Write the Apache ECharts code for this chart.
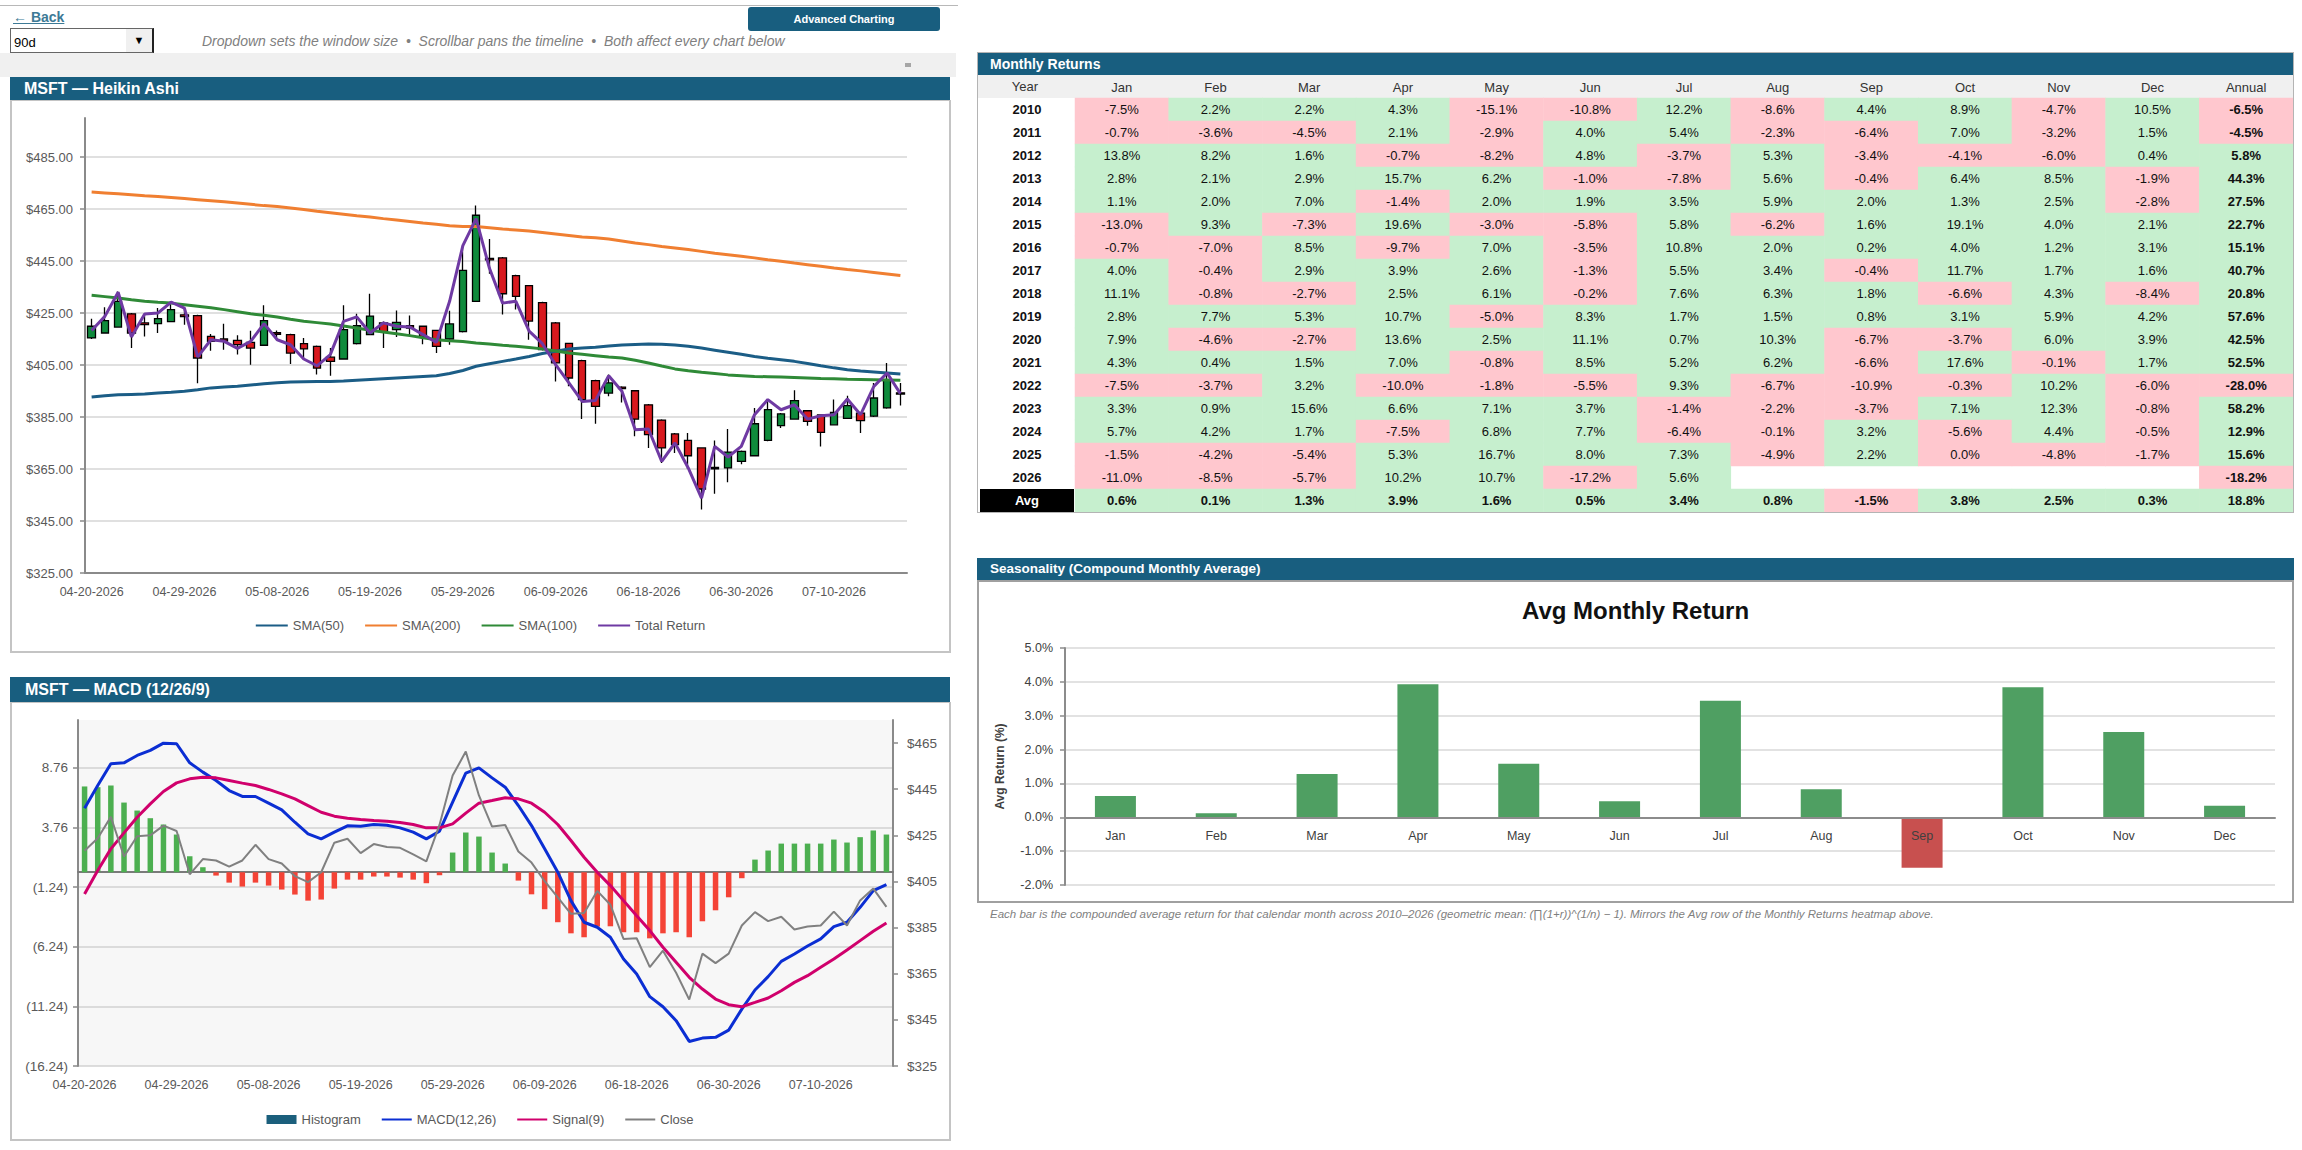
<!DOCTYPE html>
<html>
<head>
<meta charset="utf-8">
<title>MSFT dashboard</title>
<script src="https://cdn.jsdelivr.net/npm/echarts@6.0.0/dist/echarts.min.js"></script>
<style>
  html, body { margin: 0; padding: 0; background: #fff; }
  body { position: relative; width: 2302px; height: 1150px; overflow: hidden;
         font-family: "Liberation Sans", Arial, sans-serif; }
  .abs { position: absolute; box-sizing: border-box; }
  .hdr { background: #185e7f; color: #fff; font-weight: bold; white-space: nowrap; }
  .chart { position: absolute; }
</style>
</head>
<body>

<div class="abs" style="left:0;top:5px;width:958px;height:1px;background:#b8b8b8"></div>
<div class="abs" style="left:13px;top:9px;font-size:14px;font-weight:bold;color:#3d7a96;text-decoration:underline">← Back</div>
<div class="abs" style="left:10px;top:28px;width:144px;height:25px;border:1px solid #666;border-right:2px solid #222;background:#fff">
  <span style="position:absolute;left:3px;top:6px;font-size:13px;color:#000">90d</span>
  <span style="position:absolute;right:0;top:0;width:26px;height:23px;background:#f0f0f0;font-size:11px;text-align:center;line-height:23px;color:#000">▼</span>
</div>
<div class="abs" style="left:202px;top:33px;font-size:14px;font-style:italic;color:#808080;white-space:pre">Dropdown sets the window size  •  Scrollbar pans the timeline  •  Both affect every chart below</div>
<div class="abs" style="left:748px;top:7px;width:192px;height:24px;background:#185e7f;border-radius:3px;color:#fff;font-weight:bold;font-size:11px;text-align:center;line-height:24px">Advanced Charting</div>
<div class="abs" style="left:0;top:53px;width:956px;height:24px;background:#f0f0f0"></div>
<div class="abs" style="left:905px;top:63px;width:6px;height:4px;background:#a6a6a6"></div>

<div class="abs hdr" style="left:10px;top:77px;width:940px;height:23px;font-size:16px;line-height:23px;padding-left:14px">MSFT — Heikin Ashi</div>
<div class="abs" style="left:10px;top:100px;width:941px;height:553px;border:2px solid #c4c4c4;border-top-width:1px"></div>
<div id="ha" class="chart" style="left:10px;top:100px;width:940px;height:553px"></div>

<div class="abs hdr" style="left:10px;top:677px;width:940px;height:25px;font-size:16px;line-height:25px;padding-left:15px">MSFT — MACD (12/26/9)</div>
<div class="abs" style="left:10px;top:702px;width:941px;height:439px;border:2px solid #c4c4c4;border-top-width:1px"></div>
<div id="macd" class="chart" style="left:10px;top:702px;width:940px;height:438px"></div>

<div class="abs hdr" style="left:977px;top:53px;width:1317px;height:22px;font-size:14px;line-height:22px;padding-left:13px">Monthly Returns</div>
<div class="abs" style="left:977px;top:52px;width:1317px;height:461px;border:1px solid #b4b4b4"></div>
<div class="abs" style="left:978px;top:75px;width:1315px;height:23px;background:#f0f0f0"></div>
<div class="abs" style="left:978px;top:75px;width:94px;height:23px;line-height:23px;text-align:center;font-size:13px;color:#333">Year</div>
<div id="heat" class="chart" style="left:977px;top:75px;width:1316px;height:437px"></div>

<div class="abs hdr" style="left:977px;top:558px;width:1317px;height:22px;font-size:13.5px;line-height:22px;padding-left:13px">Seasonality (Compound Monthly Average)</div>
<div class="abs" style="left:977px;top:580px;width:1317px;height:323px;border:2px solid #a0a0a0"></div>
<div id="season" class="chart" style="left:977px;top:580px;width:1317px;height:322px"></div>
<div class="abs" style="left:990px;top:908px;font-size:11.5px;font-style:italic;color:#7f7f7f;white-space:nowrap">Each bar is the compounded average return for that calendar month across 2010–2026 (geometric mean: (∏(1+r))^(1/n) − 1). Mirrors the Avg row of the Monthly Returns heatmap above.</div>

<script>
// ---- price window (trading days) ----
const dates = [
  '04-20-2026','04-21-2026','04-22-2026','04-23-2026','04-24-2026',
  '04-27-2026','04-28-2026','04-29-2026','04-30-2026','05-01-2026',
  '05-04-2026','05-05-2026','05-06-2026','05-07-2026','05-08-2026',
  '05-11-2026','05-12-2026','05-13-2026','05-14-2026','05-15-2026',
  '05-18-2026','05-19-2026','05-20-2026','05-21-2026','05-22-2026',
  '05-26-2026','05-27-2026','05-28-2026','05-29-2026',
  '06-01-2026','06-02-2026','06-03-2026','06-04-2026','06-05-2026',
  '06-08-2026','06-09-2026','06-10-2026','06-11-2026','06-12-2026',
  '06-15-2026','06-16-2026','06-17-2026','06-18-2026',
  '06-22-2026','06-23-2026','06-24-2026','06-25-2026','06-26-2026',
  '06-29-2026','06-30-2026','07-01-2026','07-02-2026',
  '07-06-2026','07-07-2026','07-08-2026','07-09-2026','07-10-2026',
  '07-13-2026','07-14-2026','07-15-2026','07-16-2026','07-17-2026'
];

// Heikin Ashi candles
const haOpen = [
  415.4,417.3,419.6,424.7,421.2,420.9,421.7,424.3,424.0,416.0,
  415.0,414.5,413.7,412.6,417.4,416.7,413.2,412.2,408.0,407.3,
  413.2,416.7,421.2,418.6,420.1,419.9,418.3,415.0,417.8,429.5,
  446.0,446.2,439.4,435.5,429.0,421.2,413.3,406.7,399.0,394.2,
  396.5,395.1,389.7,383.8,378.5,376.0,373.1,365.6,365.4,367.9,
  370.1,376.0,381.7,384.2,387.4,385.8,382.0,384.5,386.5,385.3,
  388.5,394.3
];
const haClose = [
  419.9,422.1,429.5,417.3,420.5,422.8,426.3,423.6,407.7,414.1,
  414.2,412.8,411.5,422.1,416.8,409.6,411.2,403.8,406.4,418.6,
  420.1,423.8,417.7,421.4,419.2,416.0,412.2,420.8,441.4,462.6,
  445.4,432.4,431.4,421.9,410.9,405.8,400.0,391.7,389.1,398.1,
  395.9,384.2,378.2,373.1,374.4,370.1,357.3,365.1,371.5,371.8,
  382.4,387.8,386.2,391.3,383.3,379.1,386.8,389.4,383.6,392.3,
  399.4,393.8
];
const haHigh = [
  422.8,427.2,433.3,425.0,424.6,426.9,429.5,426.9,424.3,416.9,
  420.9,416.4,418.2,428.0,418.3,417.0,415.4,412.5,411.5,428.0,
  424.7,432.4,421.7,426.0,424.0,420.2,418.6,425.9,450.6,466.3,
  453.5,446.5,439.7,435.8,429.3,421.5,413.6,407.0,399.3,401.3,
  396.8,395.4,390.0,384.1,378.8,378.8,373.4,376.0,380.4,372.1,
  388.5,391.0,386.5,395.3,387.7,386.1,391.7,393.2,386.8,398.1,
  405.8,398.1
];
const haLow = [
  415.0,417.0,419.3,411.5,416.0,417.3,421.4,420.5,398.0,410.5,
  410.9,409.0,405.1,412.3,414.5,405.4,407.0,401.3,400.9,407.0,
  412.9,416.4,411.5,415.8,416.3,413.0,409.6,412.8,417.5,429.2,
  440.1,424.4,426.3,414.7,410.6,398.7,396.8,384.2,382.4,393.0,
  390.6,377.6,373.1,367.3,371.2,365.0,349.4,355.5,359.9,366.8,
  369.8,375.7,380.8,383.9,381.6,373.7,381.7,384.2,378.8,385.0,
  388.2,389.4
];

// actual closes (Total Return line / Close line)
const closes = [
  418.3,423.7,433.0,415.8,424.6,425.0,429.2,426.9,408.1,414.7,
  414.1,411.4,414.1,420.9,414.7,412.8,407.3,404.7,409.0,421.8,
  423.5,417.3,421.2,419.9,419.6,416.7,413.7,429.5,450.9,461.3,
  442.3,428.8,429.5,418.0,413.2,405.1,398.1,391.0,391.3,400.9,
  394.9,380.1,380.4,367.9,375.0,365.4,353.8,373.7,369.6,373.7,
  385.9,391.7,387.8,389.7,384.2,385.5,385.9,391.9,385.9,396.8,
  401.9,394.0
];

const sma50 = [
  392.7,393.2,393.6,393.7,393.8,394.2,394.5,394.9,395.5,396.2,
  396.5,396.8,397.3,397.8,398.2,398.5,398.6,398.7,398.7,398.8,
  399.1,399.4,399.7,400.0,400.3,400.6,400.9,401.7,402.9,404.5,
  405.5,406.4,407.3,408.3,409.4,410.3,411.2,411.5,411.8,412.3,
  412.7,412.9,413.1,413.0,412.7,412.2,411.5,410.7,409.9,409.1,
  408.3,407.6,407.0,406.4,405.6,404.7,403.9,403.2,402.7,402.3,
  401.9,401.5
];
const sma200 = [
  471.5,471.2,470.9,470.5,470.1,469.8,469.4,469.0,468.6,468.2,
  467.8,467.3,466.8,466.3,466.0,465.4,464.8,464.1,463.6,463.0,
  462.4,461.9,461.3,460.8,460.2,459.6,459.1,458.6,458.3,458.3,
  457.8,457.3,456.9,456.5,456.0,455.4,454.8,454.2,453.9,453.5,
  452.7,451.9,451.3,450.6,450.0,449.4,448.7,448.0,447.4,446.8,
  446.2,445.5,444.9,444.2,443.6,443.0,442.3,441.7,441.2,440.6,
  440.0,439.4
];
const sma100 = [
  431.8,431.3,430.8,430.1,429.5,429.1,428.8,428.2,427.6,427.0,
  426.3,425.5,424.7,424.1,423.5,422.6,421.8,421.3,420.8,420.0,
  419.2,418.4,417.7,417.0,416.3,415.5,414.7,414.3,414.0,413.5,
  413.1,412.6,412.2,411.7,411.2,410.4,409.6,409.1,408.6,408.1,
  407.7,406.8,405.8,404.6,403.5,402.8,402.2,401.7,401.2,400.9,
  400.6,400.5,400.4,400.2,400.0,399.8,399.7,399.5,399.4,399.3,
  399.2,399.1
];

// MACD (12/26/9)
const macdLine = [
  5.37,7.27,9.09,9.17,9.79,10.21,10.82,10.77,9.17,8.39,
  7.69,6.85,6.35,6.35,5.79,5.23,4.19,3.22,2.80,3.36,
  3.89,3.86,4.00,3.94,3.72,3.36,2.80,3.44,5.87,8.31,
  8.75,7.91,7.13,5.59,3.91,1.96,0.00,-2.38,-4.19,-4.61,
  -5.45,-7.27,-8.53,-10.43,-11.27,-12.44,-14.18,-13.90,-13.84,-13.23,
  -11.47,-9.87,-8.75,-7.47,-6.85,-6.18,-5.59,-4.56,-4.19,-2.94,
  -1.54,-1.03
];
const signalLine = [
  -1.82,0.14,1.96,3.30,4.61,5.73,6.77,7.49,7.83,7.97,
  7.91,7.69,7.47,7.27,6.94,6.57,6.15,5.59,5.03,4.70,
  4.53,4.42,4.33,4.28,4.17,4.00,3.72,3.72,4.05,4.95,
  5.79,6.01,6.24,6.15,5.79,5.03,4.00,2.66,1.26,0.00,
  -1.12,-2.38,-3.64,-4.89,-6.29,-7.55,-8.81,-9.79,-10.63,-11.10,
  -11.27,-10.91,-10.54,-9.93,-9.23,-8.67,-7.97,-7.27,-6.52,-5.73,
  -4.95,-4.25
];
const histogram = [
  7.19,7.13,7.27,5.84,5.17,4.53,4.00,3.16,1.34,0.42,
  -0.28,-0.87,-1.20,-0.87,-1.12,-1.45,-1.87,-2.38,-2.29,-1.37,
  -0.62,-0.62,-0.36,-0.36,-0.45,-0.62,-0.92,-0.25,1.65,3.33,
  2.99,1.65,0.73,-0.70,-1.85,-3.10,-4.19,-5.12,-5.45,-4.56,
  -4.53,-5.03,-5.03,-5.54,-5.12,-5.03,-5.45,-4.11,-3.19,-2.10,
  -0.50,1.06,1.82,2.40,2.40,2.40,2.40,2.74,2.49,2.94,
  3.50,3.16
];

// ---- monthly returns heatmap (%) ----
const monthNames = ['Jan','Feb','Mar','Apr','May','Jun','Jul','Aug','Sep','Oct','Nov','Dec'];
const heatYears = ['2010','2011','2012','2013','2014','2015','2016','2017','2018',
                   '2019','2020','2021','2022','2023','2024','2025','2026'];
const monthlyRows = [
  [-7.5, 2.2, 2.2, 4.3,-15.1,-10.8,12.2,-8.6, 4.4, 8.9,-4.7,10.5],
  [-0.7,-3.6,-4.5, 2.1, -2.9,  4.0, 5.4,-2.3,-6.4, 7.0,-3.2, 1.5],
  [13.8, 8.2, 1.6,-0.7, -8.2,  4.8,-3.7, 5.3,-3.4,-4.1,-6.0, 0.4],
  [ 2.8, 2.1, 2.9,15.7,  6.2, -1.0,-7.8, 5.6,-0.4, 6.4, 8.5,-1.9],
  [ 1.1, 2.0, 7.0,-1.4,  2.0,  1.9, 3.5, 5.9, 2.0, 1.3, 2.5,-2.8],
  [-13.0,9.3,-7.3,19.6, -3.0, -5.8, 5.8,-6.2, 1.6,19.1, 4.0, 2.1],
  [-0.7,-7.0, 8.5,-9.7,  7.0, -3.5,10.8, 2.0, 0.2, 4.0, 1.2, 3.1],
  [ 4.0,-0.4, 2.9, 3.9,  2.6, -1.3, 5.5, 3.4,-0.4,11.7, 1.7, 1.6],
  [11.1,-0.8,-2.7, 2.5,  6.1, -0.2, 7.6, 6.3, 1.8,-6.6, 4.3,-8.4],
  [ 2.8, 7.7, 5.3,10.7, -5.0,  8.3, 1.7, 1.5, 0.8, 3.1, 5.9, 4.2],
  [ 7.9,-4.6,-2.7,13.6,  2.5, 11.1, 0.7,10.3,-6.7,-3.7, 6.0, 3.9],
  [ 4.3, 0.4, 1.5, 7.0, -0.8,  8.5, 5.2, 6.2,-6.6,17.6,-0.1, 1.7],
  [-7.5,-3.7, 3.2,-10.0,-1.8, -5.5, 9.3,-6.7,-10.9,-0.3,10.2,-6.0],
  [ 3.3, 0.9,15.6, 6.6,  7.1,  3.7,-1.4,-2.2,-3.7, 7.1,12.3,-0.8],
  [ 5.7, 4.2, 1.7,-7.5,  6.8,  7.7,-6.4,-0.1, 3.2,-5.6, 4.4,-0.5],
  [-1.5,-4.2,-5.4, 5.3, 16.7,  8.0, 7.3,-4.9, 2.2, 0.0,-4.8,-1.7],
  [-11.0,-8.5,-5.7,10.2,10.7,-17.2, 5.6, null, null, null, null, null]
];
const annualReturns = [-6.5,-4.5,5.8,44.3,27.5,22.7,15.1,40.7,20.8,57.6,42.5,52.5,-28.0,58.2,12.9,15.6,-18.2];
// compound monthly average (Avg row + seasonality bars)
const avgMonthly = [0.63,0.12,1.28,3.93,1.58,0.47,3.44,0.83,-1.49,3.84,2.52,0.34];
const avgAnnual = 18.8;

// ---- styling helpers ----
const FONT = 'Liberation Sans';
const AXIS_GRAY = '#8a8a8a';
const LABEL_GRAY = '#595959';

// ================= Heikin Ashi =================
const haChart = echarts.init(document.getElementById('ha'), null, { renderer: 'svg' });
haChart.setOption({
  animation: false,
  textStyle: { fontFamily: FONT },
  grid: { left: 75, top: 18, width: 822, height: 455 },
  legend: {
    data: ['SMA(50)', 'SMA(200)', 'SMA(100)', 'Total Return'],
    top: 514, left: 'center', itemWidth: 32, itemHeight: 10, itemGap: 20,
    itemStyle: { opacity: 0 },
    textStyle: { color: LABEL_GRAY, fontSize: 13, fontFamily: FONT }
  },
  xAxis: {
    type: 'category', data: dates, boundaryGap: true,
    axisLine: { lineStyle: { color: AXIS_GRAY, width: 2 } },
    axisTick: { interval: 0, length: 5, lineStyle: { color: AXIS_GRAY, width: 1.5 } },
    axisLabel: { interval: 6, color: LABEL_GRAY, fontSize: 12.5, margin: 12 }
  },
  yAxis: {
    type: 'value', min: 325, max: 500, interval: 20,
    axisLine: { show: true, lineStyle: { color: AXIS_GRAY, width: 2 } },
    axisTick: { show: true, length: 5, lineStyle: { color: AXIS_GRAY, width: 1.5 } },
    axisLabel: { color: LABEL_GRAY, fontSize: 13, margin: 12, showMaxLabel: false,
                 formatter: v => '$' + v.toFixed(2) },
    splitLine: { showMaxLine: false, lineStyle: { color: '#d6d6d6', width: 1.5 } }
  },
  series: [
    {
      name: 'Heikin Ashi', type: 'candlestick', barWidth: 8,
      data: dates.map((d, i) => [haOpen[i], haClose[i], haLow[i], haHigh[i]]),
      itemStyle: { color: '#0f8b3c', color0: '#d8191e', borderColor: '#000',
                   borderColor0: '#000', borderColorDoji: '#000', borderWidth: 1.3 }
    },
    { name: 'SMA(50)', type: 'line', data: sma50, symbol: 'none',
      lineStyle: { color: '#1b5d86', width: 3 }, itemStyle: { color: '#1b5d86' } },
    { name: 'SMA(200)', type: 'line', data: sma200, symbol: 'none',
      lineStyle: { color: '#f07f31', width: 3 }, itemStyle: { color: '#f07f31' } },
    { name: 'SMA(100)', type: 'line', data: sma100, symbol: 'none',
      lineStyle: { color: '#2f8a37', width: 3 }, itemStyle: { color: '#2f8a37' } },
    { name: 'Total Return', type: 'line', data: closes, symbol: 'none',
      lineStyle: { color: '#6f3aa3', width: 3 }, itemStyle: { color: '#6f3aa3' } }
  ]
});

// ================= MACD =================
const macdChart = echarts.init(document.getElementById('macd'), null, { renderer: 'svg' });
const macdFmt = v => v < -0.001 ? '(' + Math.abs(v).toFixed(2) + ')' : v.toFixed(2);
macdChart.setOption({
  animation: false,
  textStyle: { fontFamily: FONT },
  grid: { left: 68, top: 18, width: 815, height: 346, show: true,
          backgroundColor: '#f7f7f7', borderWidth: 0 },
  legend: {
    data: [{ name: 'Histogram', icon: 'rect', itemStyle: { opacity: 1 } }, 'MACD(12,26)', 'Signal(9)', 'Close'],
    top: 406, left: 'center', itemWidth: 30, itemHeight: 9, itemGap: 20,
    itemStyle: { opacity: 0 },
    textStyle: { color: LABEL_GRAY, fontSize: 13, fontFamily: FONT }
  },
  xAxis: [
    {
      type: 'category', data: dates, boundaryGap: true,
      axisLine: { show: false, onZero: false }, axisTick: { show: false },
      axisLabel: { interval: 6, color: LABEL_GRAY, fontSize: 12.5, margin: 12 }
    },
    {
      type: 'category', data: dates, boundaryGap: true, position: 'bottom',
      axisLine: { onZero: true, onZeroAxisIndex: 0, lineStyle: { color: '#7a7a7a', width: 2 } },
      axisTick: { interval: 0, length: 4, lineStyle: { color: AXIS_GRAY, width: 1.5 } },
      axisLabel: { show: false }
    }
  ],
  yAxis: [
    {
      type: 'value', min: -16.24, max: 12.76, interval: 5,
      axisLine: { show: true, lineStyle: { color: AXIS_GRAY, width: 2 } },
      axisTick: { show: true, length: 5, lineStyle: { color: AXIS_GRAY, width: 1.5 } },
      axisLabel: { color: LABEL_GRAY, fontSize: 13.5, margin: 10, showMaxLabel: false, formatter: macdFmt },
      splitLine: { showMaxLine: false, lineStyle: { color: '#d2d2d2', width: 1.5 } }
    },
    {
      type: 'value', min: 325, max: 475, interval: 20, position: 'right',
      axisLine: { show: true, lineStyle: { color: AXIS_GRAY, width: 2 } },
      axisTick: { show: true, length: 5, lineStyle: { color: AXIS_GRAY, width: 1.5 } },
      axisLabel: { color: LABEL_GRAY, fontSize: 13.5, margin: 14, showMaxLabel: false,
                   formatter: v => '$' + Math.round(v) },
      splitLine: { show: false }
    }
  ],
  series: [
    {
      name: 'Histogram', type: 'bar', barWidth: 5.5,
      itemStyle: { color: '#1b5f7c' },
      data: histogram.map(v => ({ value: v, itemStyle: { color: v >= 0 ? '#4caf50' : '#f44336' } }))
    },
    { name: 'MACD(12,26)', type: 'line', data: macdLine, symbol: 'none',
      lineStyle: { color: '#0b2ed3', width: 3 }, itemStyle: { color: '#0b2ed3' } },
    { name: 'Signal(9)', type: 'line', data: signalLine, symbol: 'none',
      lineStyle: { color: '#d0006c', width: 3 }, itemStyle: { color: '#d0006c' } },
    { name: 'Close', type: 'line', data: closes, yAxisIndex: 1, symbol: 'none',
      lineStyle: { color: '#808080', width: 2 }, itemStyle: { color: '#808080' } }
  ]
});

// ================= Monthly returns heatmap =================
const heatCols = monthNames.concat(['Annual']);
const heatRows = heatYears.concat(['Avg']);
const heatData = [];
monthlyRows.forEach((row, r) => {
  row.forEach((v, c) => { if (v !== null) heatData.push({ value: [c, r, v] }); });
  heatData.push({ value: [12, r, annualReturns[r]], label: { fontWeight: 'bold' } });
});
avgMonthly.forEach((v, c) => heatData.push({ value: [c, 17, v], label: { fontWeight: 'bold' } }));
heatData.push({ value: [12, 17, avgAnnual], label: { fontWeight: 'bold' } });

const heatChart = echarts.init(document.getElementById('heat'), null, { renderer: 'svg' });
heatChart.setOption({
  animation: false,
  textStyle: { fontFamily: FONT },
  grid: { left: 95, top: 23, right: 0, bottom: 0 },
  xAxis: {
    type: 'category', data: heatCols, position: 'top',
    axisLine: { show: false }, axisTick: { show: false }, splitLine: { show: false },
    axisLabel: { color: '#333', fontSize: 13, margin: 11, verticalAlign: 'middle' }
  },
  yAxis: {
    type: 'category', data: heatRows, inverse: true,
    axisLine: { show: false }, axisTick: { show: false }, splitLine: { show: false },
    axisLabel: {
      align: 'center', margin: 48,
      formatter: v => v === 'Avg' ? '{avg|Avg}' : '{yr|' + v + '}',
      rich: {
        yr: { fontWeight: 'bold', fontSize: 13, color: '#111' },
        avg: { fontWeight: 'bold', fontSize: 13, color: '#fff', backgroundColor: '#000',
               width: 94, height: 23, lineHeight: 23, align: 'center' }
      }
    }
  },
  visualMap: {
    show: false, type: 'piecewise', dimension: 2, seriesIndex: 0,
    pieces: [{ gt: 0, color: '#c6efce' }, { lte: 0, color: '#ffc7ce' }]
  },
  series: [{
    type: 'heatmap', data: heatData,
    itemStyle: { borderWidth: 0 },
    emphasis: { disabled: true },
    label: {
      show: true, fontSize: 13, color: '#111',
      formatter: p => p.value[2].toFixed(1) + '%'
    }
  }]
});

// ================= Seasonality =================
const seasonMin = -2, seasonMax = 5, seasonGridH = 237;
const seasonChart = echarts.init(document.getElementById('season'), null, { renderer: 'svg' });
seasonChart.setOption({
  animation: false,
  textStyle: { fontFamily: FONT },
  title: {
    text: 'Avg Monthly Return', left: 'center', top: 18, padding: 0,
    textStyle: { fontSize: 24, fontWeight: 'bold', color: '#111' }
  },
  grid: { left: 88, top: 68, width: 1210, height: seasonGridH },
  xAxis: {
    type: 'category', data: monthNames, z: 5,
    // axis sits on the zero value, labels just under it
    offset: -seasonGridH * (0 - seasonMin) / (seasonMax - seasonMin),
    axisLine: { onZero: false, lineStyle: { color: '#8c8c8c', width: 2 } },
    axisTick: { alignWithLabel: false, length: 5, lineStyle: { color: '#8c8c8c', width: 1.5 } },
    axisLabel: { color: '#404040', fontSize: 12.5, margin: 12 }
  },
  yAxis: {
    type: 'value', min: seasonMin, max: seasonMax, interval: 1,
    name: 'Avg Return (%)', nameLocation: 'middle', nameGap: 59,
    nameTextStyle: { fontWeight: 'bold', fontSize: 12, color: '#404040' },
    axisLine: { show: true, lineStyle: { color: '#8c8c8c', width: 2 } },
    axisTick: { show: true, length: 5, lineStyle: { color: '#8c8c8c', width: 1.5 } },
    axisLabel: { color: '#404040', fontSize: 12.5, margin: 12,
                 formatter: v => v.toFixed(1) + '%' },
    splitLine: { lineStyle: { color: '#d9d9d9', width: 1.5 } }
  },
  series: [{
    type: 'bar', barWidth: 41,
    data: avgMonthly.map(v => ({ value: v, itemStyle: { color: v >= 0 ? '#4f9f62' : '#c8504f' } }))
  }]
});
</script>
</body>
</html>
